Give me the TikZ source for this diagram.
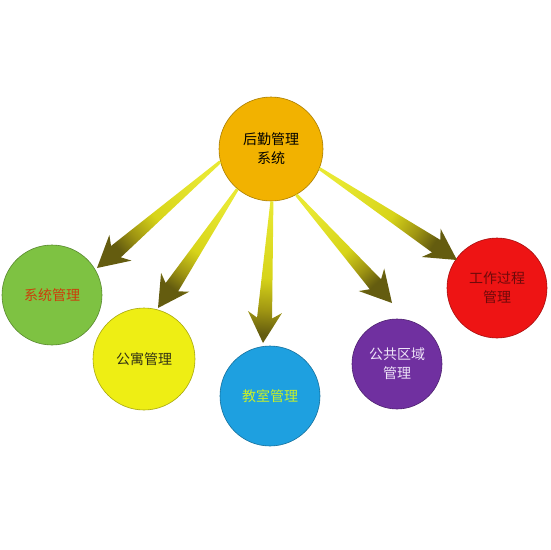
\documentclass[tikz,border=0pt]{standalone}
\usepackage{fontspec}
\newfontfamily\cjk{Noto Sans CJK SC}
\usetikzlibrary{calc}
\definecolor{orangeC}{RGB}{242,178,0}
\definecolor{greenC}{RGB}{126,194,66}
\definecolor{yellowC}{RGB}{238,238,20}
\definecolor{blueC}{RGB}{30,160,224}
\definecolor{purpleC}{RGB}{112,48,160}
\definecolor{redC}{RGB}{238,20,20}
\definecolor{arTop}{RGB}{232,232,50}
\definecolor{arMid}{RGB}{215,212,25}
\definecolor{arOl}{RGB}{160,150,18}
\definecolor{arBot}{RGB}{100,92,15}
\definecolor{txGreen}{RGB}{205,60,10}
\definecolor{txYellow}{RGB}{50,50,20}
\definecolor{txBlue}{RGB}{200,240,40}
\definecolor{txPurple}{RGB}{238,228,248}
\definecolor{txRed}{RGB}{110,10,10}
\pgfdeclareverticalshading{arrowsh}{100bp}{color(0bp)=(arBot); color(27bp)=(arBot); color(36bp)=(arOl); color(48bp)=(arMid); color(75bp)=(arTop); color(100bp)=(arTop)}
\newcommand\tarrow[3]{%
  \coordinate (hb) at ($(#2)!25pt!(#1)$);
  \coordinate (hw) at ($(#2)!31pt!(#1)$);
  \shade[shading=arrowsh, shading angle=#3]
    ($(#1)!1.5pt!90:(#2)$) -- ($(hb)!7.5pt!90:(#2)$) -- ($(hw)!17pt!90:(#2)$) -- (#2)
    -- ($(hw)!17pt!-90:(#2)$) -- ($(hb)!7.5pt!-90:(#2)$) -- ($(#1)!1.5pt!-90:(#2)$) -- cycle;
}
\begin{document}
\begin{tikzpicture}[x=1pt,y=-1pt,
  ball/.style={circle, minimum size=#1, inner sep=0pt, line width=0.6pt,
    font=\cjk\fontsize{14}{19}\selectfont, align=center}]
\useasboundingbox (0,0) rectangle (550,550);
\node[ball=104pt, fill=orangeC, draw=orangeC!70!black] (o) at (271,149) {后勤管理\\系统};
\node[ball=100pt, fill=greenC, draw=greenC!70!black, text=txGreen] (g) at (52,295) {系统管理};
\node[ball=102pt, fill=yellowC, draw=yellowC!70!black, text=txYellow] (y) at (144,359) {公寓管理};
\node[ball=100pt, fill=blueC, draw=blueC!70!black, text=txBlue] (b) at (270,396) {教室管理};
\node[ball=90pt, fill=purpleC, draw=purpleC!70!black, text=txPurple] (p) at (397,364) {公共区域\\管理};
\node[ball=100pt, fill=redC, draw=redC!70!black, text=txRed] (r) at (497,288) {工作过程\\管理};
\coordinate (t1) at (97,268);
\coordinate (t2) at (158,308);
\coordinate (t3) at (263,343);
\coordinate (t4) at (392,303);
\coordinate (t5) at (457,260);
\tarrow{o.194}{t1}{-48.5}
\tarrow{o.230}{t2}{-33.7}
\tarrow{o.271}{t3}{-3.7}
\tarrow{o.299}{t4}{41.8}
\tarrow{o.338}{t5}{56.1}
\end{tikzpicture}
\end{document}
